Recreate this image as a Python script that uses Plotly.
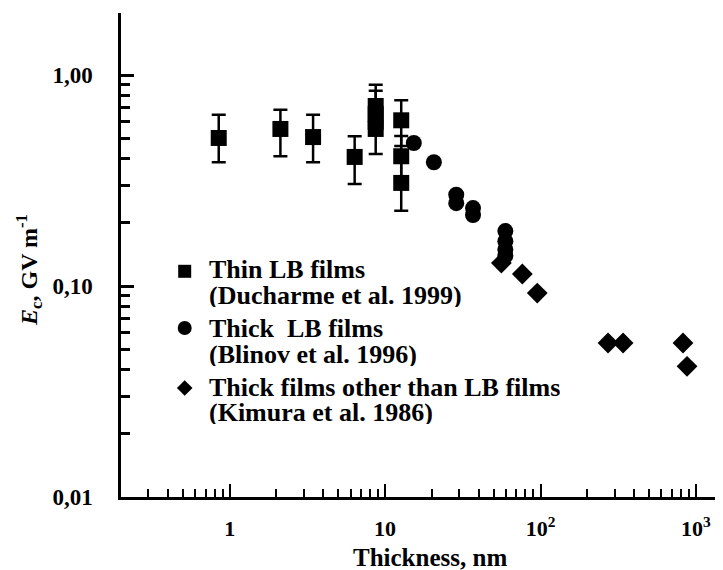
import plotly.graph_objects as go

# ---------------- data ----------------
thin_x = [0.85, 2.12, 3.44, 6.37, 8.7, 8.7, 8.7, 8.7, 12.7, 12.7, 12.7]
thin_y = [0.503, 0.555, 0.508, 0.409, 0.713, 0.654, 0.60, 0.555, 0.61, 0.412, 0.308]
thin_hi = [0.648, 0.685, 0.648, 0.512, 0.90, 0.654, 0.60, 0.843, 0.759, 0.514, 0.41]
thin_lo = [0.386, 0.412, 0.386, 0.304, 0.58, 0.654, 0.60, 0.422, 0.461, 0.33, 0.2275]

thick_x = [15.3, 20.6, 28.7, 28.7, 36.8, 36.8, 59.4, 59.4, 59.4, 59.4]
thick_y = [0.476, 0.386, 0.271, 0.247, 0.234, 0.217, 0.182, 0.163, 0.149, 0.139]

other_x = [56.0, 76.4, 95.3, 272.0, 340.0, 826.0, 877.0]
other_y = [0.1285, 0.114, 0.0926, 0.0537, 0.0537, 0.0537, 0.0416]

legend_lines = [
    ("Thin LB films", "(Ducharme et al. 1999)"),
    ("Thick  LB films", "(Blinov et al. 1996)"),
    ("Thick films other than LB films", "(Kimura et al. 1986)"),
]
legend_symbols = ["square", "circle", "diamond"]

x_tickvals = [1, 10, 100, 1000]
x_ticktext = ["1", "10", "10<sup>2</sup>", "10<sup>3</sup>"]
y_tickvals = [0.01, 0.1, 1.0]
y_ticktext = ["0,01", "0,10", "1,00"]

# ---------------- layout geometry ----------------
W, H = 723, 570
L, R, T, B = 113, 1, 5, 81
PW = W - L - R
PH = H - T - B

FONT = "Liberation Serif"

def px_to_paper(px, py):
    return (px - L) / PW, (H - B - py) / PH

fig = go.Figure()

plus = [h - y for h, y in zip(thin_hi, thin_y)]
minus = [y - l for y, l in zip(thin_y, thin_lo)]

fig.add_trace(go.Scatter(
    x=thin_x, y=thin_y, mode="markers",
    marker=dict(symbol="square", size=16, color="black"),
    error_y=dict(type="data", symmetric=False, array=plus, arrayminus=minus,
                 color="black", thickness=2.5, width=7),
    showlegend=False))
fig.add_trace(go.Scatter(
    x=thick_x, y=thick_y, mode="markers",
    marker=dict(symbol="circle", size=16, color="black"),
    showlegend=False))
fig.add_trace(go.Scatter(
    x=other_x, y=other_y, mode="markers",
    marker=dict(symbol="diamond", size=16, color="black"),
    showlegend=False))

# legend keys on an overlay [0,1] axis
key_px = [(176.7, 263.3), (176.7, 320.0), (176.7, 380.0)]
key_sizes = [13, 14, 12]
for (kx, ky), sym, sz in zip(key_px, legend_symbols, key_sizes):
    fx, fy = px_to_paper(kx, ky)
    fig.add_trace(go.Scatter(
        x=[fx], y=[fy], xaxis="x2", yaxis="y2", mode="markers",
        marker=dict(symbol=sym, size=sz, color="black"),
        showlegend=False, hoverinfo="skip"))

annotations = []
baselines = [269, 295, 328, 354, 387, 412]
texts = [t for pair in legend_lines for t in pair]
for txt, bl in zip(texts, baselines):
    fx, fy = px_to_paper(199, bl - 8)
    annotations.append(dict(
        x=fx, y=fy, xref="paper", yref="paper", text=txt, showarrow=False,
        xanchor="left", yanchor="middle", height=24, valign="middle",
        font=dict(family=FONT, size=26, color="black", weight="bold")))

# y-axis title
fx, fy = px_to_paper(21, 262)
annotations.append(dict(
    x=fx, y=fy, xref="paper", yref="paper",
    text="<i>E</i><sub>c</sub>, GV m<sup>-1</sup>",
    textangle=-90, showarrow=False, xanchor="center", yanchor="middle",
    font=dict(family=FONT, size=24, color="black", weight="bold")))
# x-axis title
fx, fy = px_to_paper(422, 549)
annotations.append(dict(
    x=fx, y=fy, xref="paper", yref="paper", text="Thickness, nm",
    showarrow=False, xanchor="center", yanchor="middle",
    font=dict(family=FONT, size=25, color="black", weight="bold")))

x_minor = [m * d for d in (0.1, 1, 10, 100) for m in range(2, 10) if 0.2 < m * d < 1600]
y_minor = [m * d for d in (0.01, 0.1) for m in range(2, 10)]

fig.update_layout(
    width=W, height=H,
    margin=dict(l=L, r=R, t=T, b=B),
    paper_bgcolor="white", plot_bgcolor="white",
    annotations=annotations,
    xaxis=dict(
        type="log", range=[(L - 221.7) / 155.4, (W - R - 221.7) / 155.4],
        tickmode="array", tickvals=x_tickvals, ticktext=x_ticktext,
        ticks="inside", ticklen=13, tickwidth=2, tickcolor="black",
        showline=True, linecolor="black", linewidth=2.5,
        showgrid=False, zeroline=False, ticklabelstandoff=10,
        tickfont=dict(family=FONT, size=22, color="black", weight="bold"),
        minor=dict(tickmode="array", tickvals=x_minor, ticks="inside",
                   ticklen=8, tickwidth=2, tickcolor="black", showgrid=False),
    ),
    yaxis=dict(
        type="log", range=[-2, -2 + PH / 211.0],
        tickmode="array", tickvals=y_tickvals, ticktext=y_ticktext,
        ticks="inside", ticklen=13, tickwidth=2.5, tickcolor="black",
        showline=True, linecolor="black", linewidth=2.5,
        showgrid=False, zeroline=False, ticklabelstandoff=21,
        tickfont=dict(family=FONT, size=23, color="black", weight="bold"),
        minor=dict(tickmode="array", tickvals=y_minor, ticks="inside",
                   ticklen=9, tickwidth=2.5, tickcolor="black", showgrid=False),
    ),
    xaxis2=dict(overlaying="x", range=[0, 1], visible=False),
    yaxis2=dict(overlaying="y", range=[0, 1], visible=False),
)

fig.write_html("out.html")
